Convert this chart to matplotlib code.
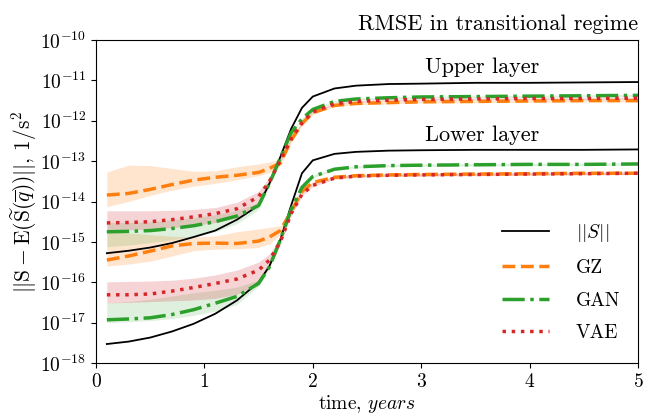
import matplotlib
matplotlib.use('Agg')
import matplotlib.pyplot as plt
import numpy as np

# computer-modern look
plt.rcParams['font.family'] = 'serif'
plt.rcParams['font.serif'] = ['cmr10']
plt.rcParams['mathtext.fontset'] = 'cm'
plt.rcParams['axes.formatter.use_mathtext'] = True
plt.rcParams['axes.unicode_minus'] = False

# time axis, years
t = [0.1, 0.3, 0.5, 0.7, 0.9, 1.1, 1.3, 1.5, 1.6, 1.7, 1.8, 1.9, 2.0,
     2.2, 2.4, 2.7, 3.0, 3.5, 4.0, 4.5, 5.0]

# all values below are log10 of the error
# --- upper layer ---
norm_up = [-15.28, -15.22, -15.14, -15.03, -14.88, -14.72, -14.45, -14.10, -13.55, -12.90, -12.20,
           -11.68, -11.40, -11.20, -11.13, -11.09, -11.08, -11.06, -11.06, -11.05, -11.04]
gz_up = [-13.84, -13.80, -13.70, -13.58, -13.47, -13.40, -13.35, -13.28, -13.18, -13.05, -12.48,
         -12.07, -11.80, -11.62, -11.57, -11.55, -11.53, -11.52, -11.51, -11.50, -11.50]
gz_up_hi = [-13.27, -13.10, -13.11, -13.18, -13.25, -13.24, -13.14, -13.07, -13.02, -12.95, -12.42,
            -12.03, -11.76, -11.59, -11.54, -11.52, -11.50, -11.49, -11.48, -11.47, -11.47]
gz_up_lo = [-14.13, -14.00, -13.85, -13.72, -13.62, -13.55, -13.46, -13.36, -13.28, -13.12, -12.55,
            -12.12, -11.84, -11.65, -11.60, -11.58, -11.56, -11.55, -11.54, -11.53, -11.53]
gan_up = [-14.75, -14.74, -14.72, -14.67, -14.60, -14.50, -14.36, -14.10, -13.55, -12.92, -12.30,
          -11.95, -11.72, -11.52, -11.46, -11.43, -11.41, -11.40, -11.39, -11.38, -11.37]
gan_up_hi = [-14.52, -14.52, -14.50, -14.45, -14.40, -14.33, -14.22, -14.02, -13.50, -12.88, -12.27,
             -11.93, -11.70, -11.50, -11.44, -11.41, -11.39, -11.38, -11.37, -11.36, -11.35]
gan_up_lo = [-15.12, -15.08, -15.02, -14.95, -14.86, -14.75, -14.55, -14.20, -13.62, -12.97, -12.34,
             -11.98, -11.75, -11.55, -11.49, -11.46, -11.44, -11.43, -11.42, -11.41, -11.40]
vae_up = [-14.53, -14.52, -14.50, -14.45, -14.38, -14.30, -14.18, -13.88, -13.50, -12.98, -12.45,
          -12.05, -11.78, -11.58, -11.52, -11.49, -11.47, -11.46, -11.45, -11.45, -11.44]
vae_up_hi = [-14.23, -14.23, -14.23, -14.22, -14.20, -14.15, -14.02, -13.75, -13.40, -12.93, -12.42,
             -12.03, -11.76, -11.56, -11.50, -11.47, -11.45, -11.44, -11.43, -11.43, -11.42]
vae_up_lo = [-14.70, -14.70, -14.68, -14.65, -14.60, -14.52, -14.40, -14.10, -13.60, -13.03, -12.48,
             -12.08, -11.80, -11.60, -11.54, -11.51, -11.49, -11.48, -11.47, -11.47, -11.46]

# --- lower layer ---
norm_lo = [-17.53, -17.47, -17.37, -17.22, -17.03, -16.78, -16.45, -16.00, -15.60, -14.95, -14.10,
           -13.30, -12.98, -12.82, -12.77, -12.74, -12.73, -12.72, -12.72, -12.72, -12.71]
gz_lo = [-15.45, -15.35, -15.23, -15.10, -15.04, -15.03, -15.04, -14.98, -14.88, -14.72, -14.25,
         -13.75, -13.53, -13.40, -13.36, -13.34, -13.33, -13.32, -13.31, -13.30, -13.30]
gz_lo_hi = [-14.75, -14.78, -14.82, -14.86, -14.88, -14.85, -14.75, -14.68, -14.64, -14.60, -14.20,
            -13.72, -13.50, -13.37, -13.33, -13.31, -13.30, -13.29, -13.28, -13.27, -13.27]
gz_lo_lo = [-15.60, -15.55, -15.48, -15.35, -15.22, -15.18, -15.17, -15.14, -15.05, -14.82, -14.30,
            -13.78, -13.56, -13.43, -13.39, -13.37, -13.36, -13.35, -13.34, -13.33, -13.33]
gan_lo = [-16.93, -16.91, -16.88, -16.80, -16.68, -16.52, -16.35, -16.03, -15.62, -14.95, -14.20,
          -13.65, -13.38, -13.20, -13.14, -13.11, -13.10, -13.09, -13.08, -13.08, -13.07]
gan_lo_hi = [-16.51, -16.48, -16.42, -16.34, -16.26, -16.20, -16.12, -15.95, -15.57, -14.92, -14.17,
             -13.62, -13.35, -13.17, -13.11, -13.08, -13.07, -13.06, -13.05, -13.05, -13.04]
gan_lo_lo = [-17.00, -16.98, -16.95, -16.90, -16.82, -16.72, -16.55, -16.10, -15.67, -14.98, -14.23,
             -13.68, -13.41, -13.23, -13.17, -13.14, -13.13, -13.12, -13.11, -13.11, -13.10]
vae_lo = [-16.31, -16.31, -16.29, -16.22, -16.13, -16.03, -15.92, -15.70, -15.45, -15.00, -14.30,
          -13.82, -13.60, -13.42, -13.37, -13.35, -13.34, -13.33, -13.32, -13.31, -13.30]
vae_lo_hi = [-15.99, -15.98, -15.97, -15.95, -15.90, -15.82, -15.70, -15.50, -15.30, -14.90, -14.25,
             -13.78, -13.57, -13.39, -13.34, -13.32, -13.31, -13.30, -13.29, -13.28, -13.27]
vae_lo_lo = [-16.51, -16.50, -16.48, -16.46, -16.44, -16.40, -16.30, -16.05, -15.60, -15.08, -14.35,
             -13.86, -13.63, -13.45, -13.40, -13.38, -13.37, -13.36, -13.35, -13.34, -13.33]

labels = ['$||S||$', 'GZ', 'GAN', 'VAE']
colors = ['k', '#ff7f0e', '#2ca02c', '#d62728']
styles = ['-', '--', '-.', ':']


def p(v):
    return 10.0 ** np.array(v)


fig = plt.figure(figsize=(6.46, 4.17), dpi=100)
ax = fig.add_axes([0.1486, 0.1295, 0.839, 0.7745])

# shaded spread
for lo, hi, c, a in [(gz_up_lo, gz_up_hi, colors[1], 0.2), (gz_lo_lo, gz_lo_hi, colors[1], 0.2),
                     (gan_up_lo, gan_up_hi, colors[2], 0.15), (gan_lo_lo, gan_lo_hi, colors[2], 0.15),
                     (vae_up_lo, vae_up_hi, colors[3], 0.2), (vae_lo_lo, vae_lo_hi, colors[3], 0.2)]:
    ax.fill_between(t, p(lo), p(hi), color=c, alpha=a, lw=0)

ups = [norm_up, gz_up, gan_up, vae_up]
lows = [norm_lo, gz_lo, gan_lo, vae_lo]
for i in range(4):
    lw = 1.3 if i == 0 else 2.5
    ax.plot(t, p(ups[i]), color=colors[i], ls=styles[i], lw=lw, label=labels[i])
    ax.plot(t, p(lows[i]), color=colors[i], ls=styles[i], lw=lw)

ax.set_yscale('log')
ax.set_xlim(0, 5)
ax.set_ylim(1e-18, 1e-10)
ax.set_yticks([10.0 ** k for k in range(-18, -9)])
ax.minorticks_off()
ax.tick_params(labelsize=14)

ax.text(3.56, 10 ** -10.67, 'Upper layer', ha='center', va='center', fontsize=16)
ax.text(3.56, 10 ** -12.35, 'Lower layer', ha='center', va='center', fontsize=16)

ax.set_title('RMSE in transitional regime', loc='right', fontsize=16, pad=7)
ax.set_xlabel('time, $years$', fontsize=14, labelpad=2)
ax.set_ylabel(r'$||\mathrm{S}-\mathrm{E}(\widetilde{\mathrm{S}}(\overline{q}))||$, $1/\mathrm{s}^2$',
              fontsize=15.5, labelpad=1)

ax.legend(loc='lower right', frameon=False, fontsize=14, handlelength=2.4,
          handletextpad=1.4, labelspacing=0.76, bbox_to_anchor=(1.0, 0.01))

fig.savefig('out.png', dpi=100)
